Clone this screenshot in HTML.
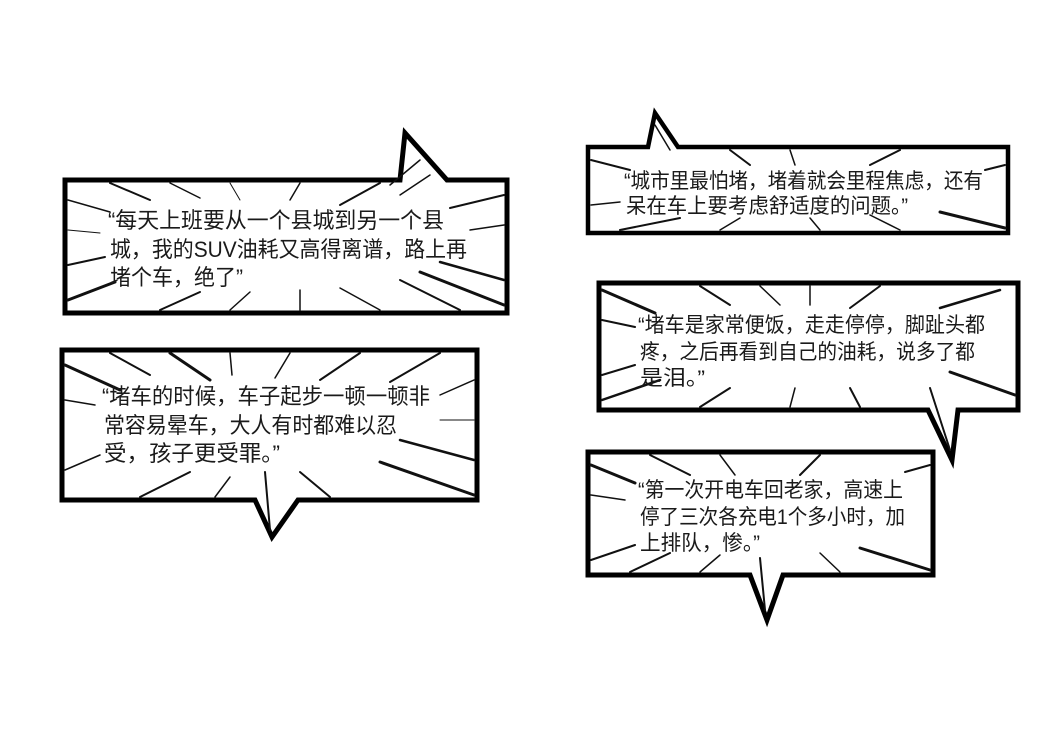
<!DOCTYPE html>
<html><head><meta charset="utf-8"><style>
html,body{margin:0;padding:0;background:#fff;}
svg{display:block}
text{font-family:"Liberation Sans","Noto Sans CJK SC",sans-serif;fill:#1a1a1a;}
.sl line{stroke:#111;stroke-linecap:round}
</style></head><body>
<svg width="1056" height="731" viewBox="0 0 1056 731" xmlns="http://www.w3.org/2000/svg">
<rect width="1056" height="731" fill="#fff"/>

<path d="M65,180 L400,180 L405,133 L447,180 L507,180 L507,313 L65,313 Z" fill="#fff" stroke="#000" stroke-width="5"/>
<g class="sl">
<line x1="68" y1="200" x2="110" y2="212" stroke-width="1.5"/>
<line x1="68" y1="230" x2="100" y2="233" stroke-width="1"/>
<line x1="68" y1="265" x2="105" y2="257" stroke-width="2"/>
<line x1="68" y1="300" x2="115" y2="282" stroke-width="3"/>
<line x1="110" y1="183" x2="150" y2="200" stroke-width="2"/>
<line x1="170" y1="183" x2="200" y2="198" stroke-width="1.5"/>
<line x1="230" y1="183" x2="240" y2="200" stroke-width="1"/>
<line x1="300" y1="183" x2="290" y2="200" stroke-width="1.5"/>
<line x1="380" y1="183" x2="340" y2="205" stroke-width="2"/>
<line x1="420" y1="160" x2="390" y2="185" stroke-width="1.5"/>
<line x1="430" y1="175" x2="400" y2="195" stroke-width="1.5"/>
<line x1="504" y1="195" x2="450" y2="208" stroke-width="2"/>
<line x1="504" y1="225" x2="470" y2="230" stroke-width="1.5"/>
<line x1="504" y1="280" x2="440" y2="262" stroke-width="2.5"/>
<line x1="504" y1="305" x2="420" y2="272" stroke-width="3"/>
<line x1="460" y1="310" x2="400" y2="280" stroke-width="2"/>
<line x1="380" y1="310" x2="340" y2="288" stroke-width="1.5"/>
<line x1="300" y1="310" x2="300" y2="290" stroke-width="1.5"/>
<line x1="230" y1="310" x2="250" y2="292" stroke-width="1.5"/>
<line x1="160" y1="310" x2="200" y2="292" stroke-width="2"/>
</g>
<text x="108" y="228" font-size="22" textLength="336" lengthAdjust="spacingAndGlyphs">“每天上班要从一个县城到另一个县</text>
<text x="110" y="257" font-size="22" textLength="357" lengthAdjust="spacingAndGlyphs">城，我的SUV油耗又高得离谱，路上再</text>
<text x="110" y="285" font-size="22" textLength="133" lengthAdjust="spacingAndGlyphs">堵个车，绝了”</text>

<path d="M62,350 L477,350 L477,500 L298,500 L272,537 L255,500 L62,500 Z" fill="#fff" stroke="#000" stroke-width="5"/>
<g class="sl">
<line x1="65" y1="365" x2="120" y2="390" stroke-width="3"/>
<line x1="65" y1="400" x2="95" y2="405" stroke-width="1.5"/>
<line x1="65" y1="470" x2="100" y2="455" stroke-width="1.5"/>
<line x1="110" y1="353" x2="150" y2="375" stroke-width="2"/>
<line x1="170" y1="353" x2="210" y2="380" stroke-width="3"/>
<line x1="230" y1="353" x2="232" y2="375" stroke-width="1.5"/>
<line x1="290" y1="353" x2="275" y2="378" stroke-width="1.5"/>
<line x1="360" y1="353" x2="320" y2="380" stroke-width="2"/>
<line x1="440" y1="353" x2="390" y2="382" stroke-width="2"/>
<line x1="474" y1="380" x2="440" y2="395" stroke-width="1.5"/>
<line x1="474" y1="420" x2="440" y2="420" stroke-width="1"/>
<line x1="474" y1="460" x2="400" y2="440" stroke-width="2.5"/>
<line x1="474" y1="495" x2="380" y2="462" stroke-width="3"/>
<line x1="330" y1="497" x2="300" y2="472" stroke-width="2"/>
<line x1="270" y1="530" x2="265" y2="472" stroke-width="2"/>
<line x1="215" y1="497" x2="230" y2="477" stroke-width="1.5"/>
<line x1="140" y1="497" x2="190" y2="472" stroke-width="2"/>
</g>
<text x="102" y="404" font-size="22" textLength="328" lengthAdjust="spacingAndGlyphs">“堵车的时候，车子起步一顿一顿非</text>
<text x="104" y="433" font-size="22" textLength="293" lengthAdjust="spacingAndGlyphs">常容易晕车，大人有时都难以忍</text>
<text x="104" y="461" font-size="22" textLength="176" lengthAdjust="spacingAndGlyphs">受，孩子更受罪。”</text>

<path d="M588,147 L648,147 L655,113 L678,147 L1008,147 L1008,233 L588,233 Z" fill="#fff" stroke="#000" stroke-width="4.5"/>
<g class="sl">
<line x1="591" y1="160" x2="630" y2="170" stroke-width="2"/>
<line x1="591" y1="205" x2="620" y2="202" stroke-width="1.5"/>
<line x1="620" y1="230" x2="680" y2="218" stroke-width="2"/>
<line x1="655" y1="125" x2="670" y2="150" stroke-width="1.5"/>
<line x1="730" y1="150" x2="750" y2="165" stroke-width="2"/>
<line x1="790" y1="150" x2="795" y2="165" stroke-width="1.5"/>
<line x1="900" y1="150" x2="870" y2="165" stroke-width="2"/>
<line x1="1005" y1="165" x2="985" y2="170" stroke-width="2"/>
<line x1="1005" y1="228" x2="940" y2="212" stroke-width="3"/>
<line x1="900" y1="230" x2="870" y2="215" stroke-width="1.5"/>
<line x1="820" y1="230" x2="810" y2="218" stroke-width="1.5"/>
<line x1="720" y1="230" x2="740" y2="218" stroke-width="1.5"/>
</g>
<text x="624" y="188" font-size="21" textLength="359" lengthAdjust="spacingAndGlyphs">“城市里最怕堵，堵着就会里程焦虑，还有</text>
<text x="626" y="213" font-size="21" textLength="282" lengthAdjust="spacingAndGlyphs">呆在车上要考虑舒适度的问题。”</text>

<path d="M599,283 L1018,283 L1018,410 L958,410 L952,460 L928,410 L599,410 Z" fill="#fff" stroke="#000" stroke-width="5"/>
<g class="sl">
<line x1="602" y1="290" x2="655" y2="313" stroke-width="3"/>
<line x1="602" y1="320" x2="635" y2="327" stroke-width="2"/>
<line x1="602" y1="375" x2="635" y2="365" stroke-width="2"/>
<line x1="602" y1="400" x2="660" y2="380" stroke-width="2.5"/>
<line x1="700" y1="286" x2="730" y2="305" stroke-width="2"/>
<line x1="760" y1="286" x2="780" y2="305" stroke-width="1.5"/>
<line x1="810" y1="286" x2="810" y2="305" stroke-width="1.5"/>
<line x1="880" y1="286" x2="850" y2="308" stroke-width="2"/>
<line x1="1000" y1="290" x2="940" y2="308" stroke-width="2.5"/>
<line x1="1015" y1="395" x2="950" y2="372" stroke-width="3"/>
<line x1="950" y1="450" x2="930" y2="388" stroke-width="2"/>
<line x1="860" y1="407" x2="850" y2="388" stroke-width="2"/>
<line x1="790" y1="407" x2="795" y2="388" stroke-width="1.5"/>
<line x1="700" y1="407" x2="730" y2="388" stroke-width="2"/>
</g>
<text x="638" y="332" font-size="21" textLength="347" lengthAdjust="spacingAndGlyphs">“堵车是家常便饭，走走停停，脚趾头都</text>
<text x="640" y="359" font-size="21" textLength="335" lengthAdjust="spacingAndGlyphs">疼，之后再看到自己的油耗，说多了都</text>
<text x="640" y="385" font-size="21" textLength="65" lengthAdjust="spacingAndGlyphs">是泪。”</text>

<path d="M588,452 L933,452 L933,575 L783,575 L767,620 L750,575 L588,575 Z" fill="#fff" stroke="#000" stroke-width="5"/>
<g class="sl">
<line x1="591" y1="465" x2="635" y2="483" stroke-width="3"/>
<line x1="591" y1="495" x2="625" y2="500" stroke-width="1.5"/>
<line x1="591" y1="560" x2="635" y2="545" stroke-width="2"/>
<line x1="650" y1="455" x2="690" y2="475" stroke-width="2"/>
<line x1="720" y1="455" x2="735" y2="475" stroke-width="1.5"/>
<line x1="820" y1="455" x2="800" y2="475" stroke-width="2"/>
<line x1="930" y1="465" x2="905" y2="472" stroke-width="2"/>
<line x1="930" y1="570" x2="860" y2="548" stroke-width="3"/>
<line x1="840" y1="572" x2="820" y2="553" stroke-width="1.5"/>
<line x1="765" y1="610" x2="760" y2="558" stroke-width="2"/>
<line x1="700" y1="572" x2="720" y2="555" stroke-width="1.5"/>
<line x1="630" y1="572" x2="670" y2="553" stroke-width="2"/>
</g>
<text x="638" y="497" font-size="21" textLength="265" lengthAdjust="spacingAndGlyphs">“第一次开电车回老家，高速上</text>
<text x="640" y="524" font-size="21" textLength="265" lengthAdjust="spacingAndGlyphs">停了三次各充电1个多小时，加</text>
<text x="640" y="550" font-size="21" textLength="120" lengthAdjust="spacingAndGlyphs">上排队，惨。”</text>
</svg>
</body></html>
